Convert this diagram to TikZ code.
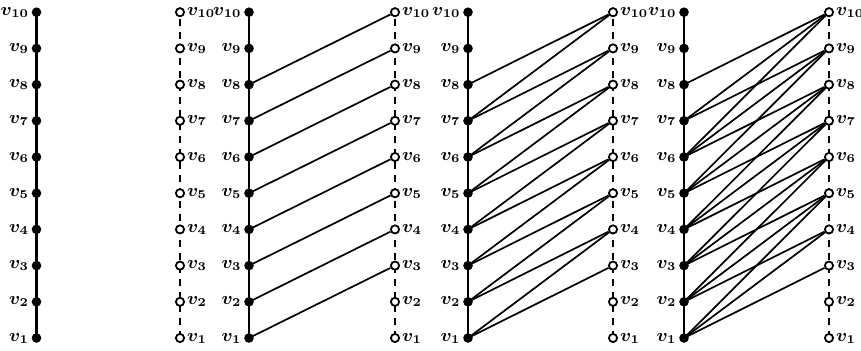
\documentclass[tikz,border=0pt]{standalone}
\usepackage{amsmath,bm}
\pgfdeclarelayer{bg}
\pgfsetlayers{bg,main}
\begin{document}
\begin{tikzpicture}[x=0.5pt,y=-0.5pt,
  fdot/.style={circle,fill=black,draw=none,inner sep=0pt,minimum size=4.8pt},
  odot/.style={circle,fill=white,draw=black,line width=0.9pt,inner sep=0pt,minimum size=4.1pt},
  lab/.style={font=\fontsize{9}{10}\selectfont\boldmath,inner sep=0.8pt},
  spine/.style={line width=1.2pt},
  dspine/.style={line width=0.85pt,dash pattern=on 3.5pt off 3pt},
  edge/.style={line width=0.85pt}]
\useasboundingbox (0,0) rectangle (861,350);
\foreach \i in {1,...,10}{
  \pgfmathsetmacro\yy{338-(\i-1)*36.2}
  \node[fdot,label={[lab,label distance=0.2pt]left:$v_{\i}$}] (p\i) at (36.5,\yy) {};
  \node[odot,label={[lab,label distance=0pt]right:$v_{\i}$}] (q\i) at (180,\yy) {};
  \node[fdot,label={[lab,label distance=0.2pt]left:$v_{\i}$}] (r\i) at (249,\yy) {};
  \node[odot,label={[lab,label distance=0pt]right:$v_{\i}$}] (s\i) at (395,\yy) {};
  \node[fdot,label={[lab,label distance=0.2pt]left:$v_{\i}$}] (t\i) at (468,\yy) {};
  \node[odot,label={[lab,label distance=0pt]right:$v_{\i}$}] (u\i) at (613,\yy) {};
  \node[fdot,label={[lab,label distance=0.2pt]left:$v_{\i}$}] (w\i) at (684,\yy) {};
  \node[odot,label={[lab,label distance=0pt]right:$v_{\i}$}] (z\i) at (829,\yy) {};
}
\begin{pgfonlayer}{bg}
  \draw[spine] (p1.center) -- (p10.center);
  \draw[dspine] (q1.center) -- (q10.center);
  \draw[spine] (r1.center) -- (r10.center);
  \draw[dspine] (s1.center) -- (s10.center);
  \draw[spine] (t1.center) -- (t10.center);
  \draw[dspine] (u1.center) -- (u10.center);
  \draw[spine] (w1.center) -- (w10.center);
  \draw[dspine] (z1.center) -- (z10.center);
  \foreach \i [evaluate=\i as \j using int(\i+2)] in {1,...,8}{
    \draw[edge] (r\i.center) -- (s\j);
    \draw[edge] (t\i.center) -- (u\j);
    \draw[edge] (w\i.center) -- (z\j);
  }
  \foreach \i [evaluate=\i as \j using int(\i+3)] in {1,...,7}{
    \draw[edge] (t\i.center) -- (u\j);
    \draw[edge] (w\i.center) -- (z\j);
  }
  \foreach \i [evaluate=\i as \j using int(\i+4)] in {1,...,6}{
    \draw[edge] (w\i.center) -- (z\j);
  }
\end{pgfonlayer}
\end{tikzpicture}
\end{document}
